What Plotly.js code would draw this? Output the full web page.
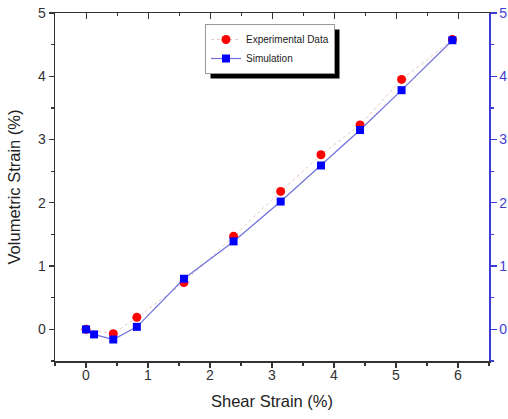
<!DOCTYPE html>
<html>
<head>
<meta charset="utf-8">
<script src="https://cdn.plot.ly/plotly-3.0.1.min.js"></script>
<style>html,body{margin:0;padding:0;background:#fff;}#chart{width:508px;height:419px;position:relative;}</style>
</head>
<body>
<div id="chart"></div>
<script>
// Shear strain (%) and volumetric strain (%)
const expShear = [0, 0.44, 0.82, 1.58, 2.38, 3.14, 3.79, 4.42, 5.09, 5.91];
const expVol   = [0, -0.07, 0.19, 0.74, 1.47, 2.18, 2.76, 3.23, 3.95, 4.58];
const simShear = [0, 0.13, 0.44, 0.82, 1.58, 2.38, 3.14, 3.79, 4.42, 5.09, 5.91];
const simVol   = [0, -0.08, -0.16, 0.04, 0.80, 1.39, 2.02, 2.59, 3.15, 3.78, 4.57];
const xTicks = [0, 1, 2, 3, 4, 5, 6];
const yTicks = [0, 1, 2, 3, 4, 5];

const blue = '#3d3dd6';
const axisCol = '#333';
const traces = [
  {x: expShear, y: expVol, name: 'Experimental Data', mode: 'lines+markers',
   line: {color: '#e6c9c0', width: 1, dash: 'dot'},
   marker: {symbol: 'circle', size: 9, color: '#ff0000'}},
  {x: simShear, y: simVol, name: 'Simulation', mode: 'lines+markers',
   line: {color: '#7070dd', width: 1.2},
   marker: {symbol: 'square', size: 8, color: '#0000ff'}},
  {x: simShear, y: simVol, xaxis: 'x2', yaxis: 'y2', mode: 'lines', showlegend: false,
   hoverinfo: 'skip', opacity: 0, line: {width: 0}}
];

const W = 508, H = 419, M = {l: 55, r: 19, t: 13, b: 58};
const pw = W - M.l - M.r, ph = H - M.t - M.b;
const axFont = {family: 'Liberation Sans, Arial, sans-serif', size: 14, color: '#333'};
const layout = {
  width: W, height: H,
  margin: M,
  paper_bgcolor: '#fff', plot_bgcolor: '#fff',
  font: {family: 'Liberation Sans, Arial, sans-serif'},
  showlegend: true,
  legend: {x: (270 - M.l) / pw, y: (H - M.b - 49) / ph, xanchor: 'center', yanchor: 'middle',
    bgcolor: '#fff', bordercolor: '#999', borderwidth: 1,
    font: {size: 10, color: '#222'}, tracegroupgap: 0},
  xaxis: {range: [-0.5, 6.5], tickvals: xTicks, showgrid: false, zeroline: false,
    showline: true, linecolor: axisCol, linewidth: 1.5,
    ticks: 'outside', ticklen: 5, tickcolor: axisCol, tickwidth: 1.2, ticklabelstandoff: -4,
    minor: {dtick: 0.5, ticks: 'outside', ticklen: 3, tickcolor: axisCol},
    tickfont: axFont,
    title: {text: 'Shear Strain (%)', font: {size: 16.5, color: '#222'}, standoff: 13}},
  yaxis: {range: [-0.5, 5], tickvals: yTicks, showgrid: false, zeroline: false,
    showline: true, linecolor: axisCol, linewidth: 1.5,
    ticks: 'outside', ticklen: 5, tickcolor: axisCol, tickwidth: 1.2,
    minor: {dtick: 0.5, ticks: 'outside', ticklen: 3, tickcolor: axisCol},
    tickfont: axFont,
    title: {text: 'Volumetric Strain (%)', font: {size: 16.5, color: '#222'}, standoff: 13}},
  xaxis2: {range: [-0.5, 6.5], overlaying: 'x', side: 'top', tickvals: xTicks,
    showgrid: false, zeroline: false, showline: true, linecolor: axisCol, linewidth: 1.5,
    ticks: 'inside', ticklen: 6, tickcolor: axisCol, showticklabels: false,
    minor: {dtick: 0.5, ticks: 'inside', ticklen: 3, tickcolor: axisCol}},
  yaxis2: {range: [-0.5, 5], overlaying: 'y', side: 'right', tickvals: yTicks,
    showgrid: false, zeroline: false, showline: true, linecolor: blue, linewidth: 1.5,
    ticks: 'outside', ticklen: 6, tickcolor: blue, tickwidth: 1.2,
    minor: {dtick: 0.5, ticks: 'outside', ticklen: 3, tickcolor: blue},
    tickfont: {family: 'Liberation Sans, Arial, sans-serif', size: 14, color: blue}}
};
const gd = document.getElementById('chart');
Plotly.newPlot(gd, traces, layout, {displayModeBar: false, staticPlot: true}).then(function () {
  // drop shadow behind the legend, sized from the rendered legend box
  const bg = gd.querySelector('.legend .bg');
  if (!bg) return;
  const r = bg.getBoundingClientRect();
  const c = gd.getBoundingClientRect();
  const off = 5;
  const x0 = r.left - c.left + off, x1 = r.right - c.left + off;
  const y0 = r.top - c.top + off, y1 = r.bottom - c.top + off;
  return Plotly.relayout(gd, {shapes: [{
    type: 'rect', xref: 'paper', yref: 'paper', layer: 'below',
    x0: (x0 - M.l) / pw, x1: (x1 - M.l) / pw,
    y0: (H - M.b - y1) / ph, y1: (H - M.b - y0) / ph,
    fillcolor: '#000', line: {width: 0}}]});
});
</script>
</body>
</html>
